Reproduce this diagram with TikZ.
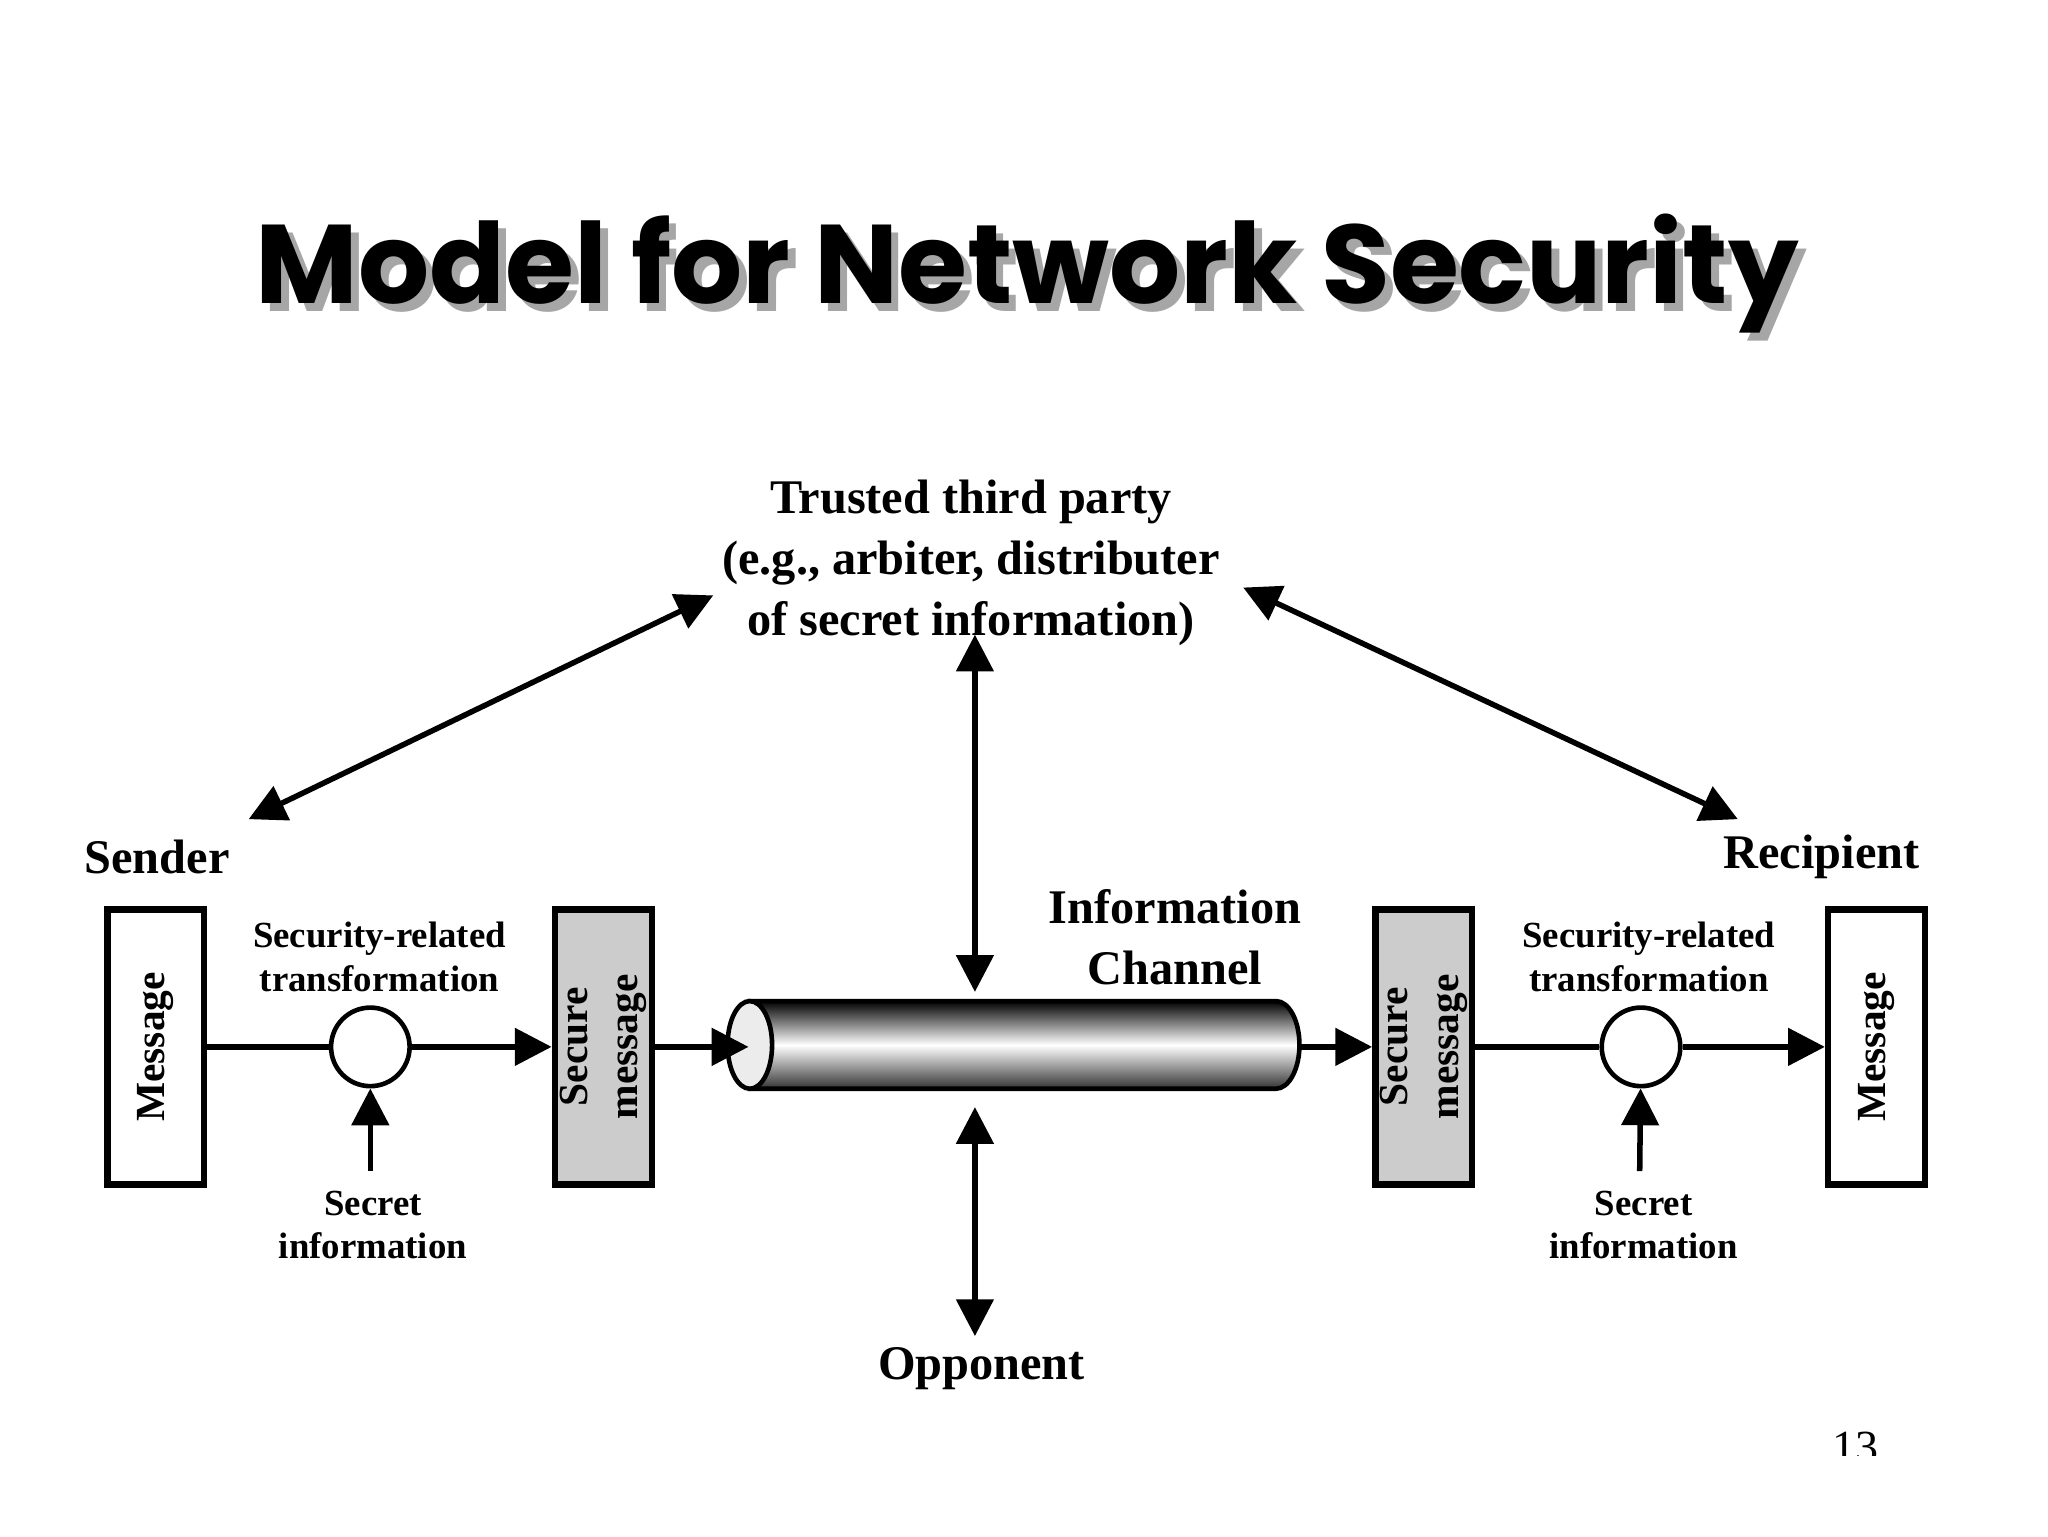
\documentclass[tikz,border=0pt]{standalone}
\usepackage{fontspec}
\setmainfont{Liberation Serif}
\newfontfamily\titlefont{Poppins}
\usetikzlibrary{arrows.meta,shapes.geometric}
\begin{document}
\begin{tikzpicture}[x=0.01cm,y=-0.01cm,
  lbl/.style={font=\bfseries\fontsize{10.5}{12}\selectfont,align=center,inner sep=0pt},
  big/.style={font=\bfseries\fontsize{10.5}{13.2}\selectfont,align=center,inner sep=0pt},
  small/.style={font=\bfseries\fontsize{8}{9.5}\selectfont,align=center,inner sep=0pt},
  box/.style={draw,line width=1.4pt,minimum width=0.74cm,minimum height=2.1cm,inner sep=0pt},
  trans/.style={draw,circle,line width=1pt,minimum size=0.6cm,inner sep=0pt,fill=white},
  arr/.style={line width=1.2pt,-{Triangle[length=8pt,width=8pt]}},
  darr/.style={line width=1.2pt,{Triangle[length=8pt,width=8pt]}-{Triangle[length=8pt,width=8pt]}}]
\useasboundingbox (0,0) rectangle (1565,1174);
\fill[white] (0,0) rectangle (1565,1174);
% title
\node[font=\titlefont\bfseries\fontsize{24.3}{28}\selectfont,text=gray!70] at (791,215) {Model for Network Security};
\node[font=\titlefont\bfseries\fontsize{24.3}{28}\selectfont] (title) at (785,209) {Model for Network Security};
% third party
\node[big] (ttp) at (742,430) {Trusted third party\\(e.g., arbiter, distributer\\of secret information)};
\node[lbl] (sender) at (120,655) {Sender};
\node[lbl] (recip) at (1392,655) {Recipient};
% left side
\node[box] (m1) at (119,800) {\rotatebox{90}{\small\bfseries Message}};
\node[box,fill=gray!40] (s1) at (461,800) {\rotatebox{90}{\parbox{1.5cm}{\centering\small\bfseries Secure\\message}}};
\node[trans] (t1) at (283,800) {};
\node[small] at (290,731) {Security-related\\transformation};
\node[small] (k1) at (285,936) {Secret\\information};
\coordinate (k1a) at (283,895);
% right side
\node[box,fill=gray!40] (s2) at (1088,800) {\rotatebox{90}{\parbox{1.5cm}{\centering\small\bfseries Secure\\message}}};
\node[trans] (t2) at (1254,800) {};
\node[box] (m2) at (1434,800) {\rotatebox{90}{\small\bfseries Message}};
\node[small] at (1260,731) {Security-related\\transformation};
\node[small] (k2) at (1256,936) {Secret\\information};
\coordinate (k2a) at (1253,895);
% channel
\shade[top color=black,bottom color=black!80,middle color=white,draw,line width=1pt]
  (573,765) -- (975,765) arc[start angle=-90,end angle=90,x radius=18,y radius=33.5] -- (573,832) -- cycle;
\draw[line width=1pt,fill=gray!15] (573,798.5) ellipse[x radius=17,y radius=33.5];
\coordinate (chl) at (572,800);
\coordinate (chr) at (993,800);
\node[big] at (898,716) {Information\\Channel};
\node[big] (opp) at (750,1046) {Opponent};
\coordinate (ct) at (745,485);
\coordinate (cb) at (745,758);
\coordinate (ot) at (745,846);
\coordinate (ob) at (745,1021);
% connectors
\draw[line width=1.2pt] (m1) -- (t1);
\draw[arr] (t1) -- (s1);
\draw[arr] (s1) -- (chl);
\draw[arr] (chr) -- (s2);
\draw[line width=1.2pt] (s2) -- (t2);
\draw[arr] (t2) -- (m2);
\draw[arr] (k1a) -- (t1);
\draw[arr] (k2a) -- (t2);
\draw[darr] (ct) -- (cb);
\draw[darr] (ot) -- (ob);
\coordinate (d1a) at (545,455); \coordinate (d1b) at (190,626);
\coordinate (d2a) at (950,449); \coordinate (d2b) at (1328,626);
\draw[darr] (d1a) -- (d1b);
\draw[darr] (d2a) -- (d2b);
% page number (cut)
\begin{scope}
\clip (1380,1080) rectangle (1460,1112);
\node[font=\fontsize{10}{12}\selectfont] at (1418,1106) {13};
\end{scope}
\end{tikzpicture}
\end{document}
